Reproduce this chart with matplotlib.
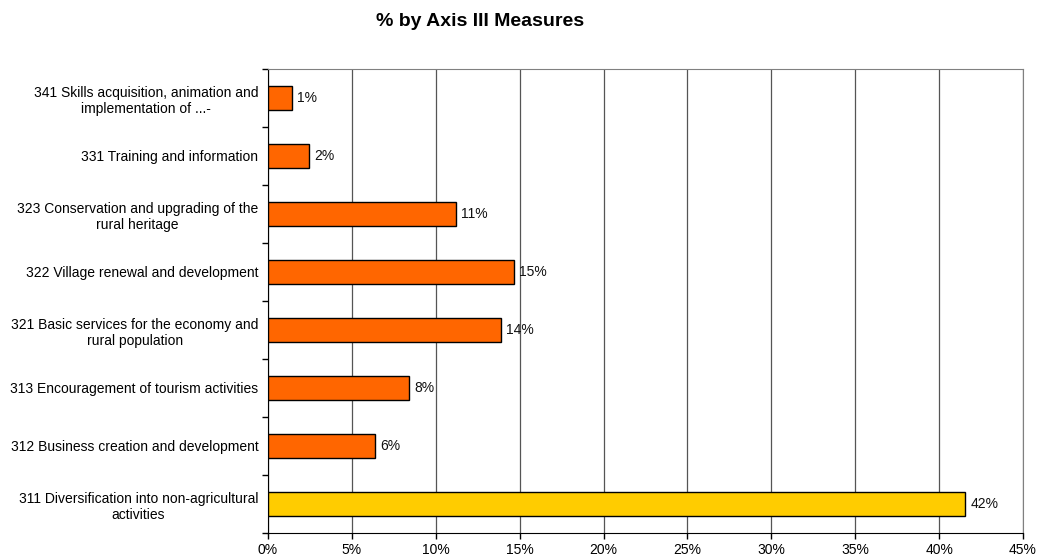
import numpy as np
import matplotlib.pyplot as plt

plt.rcParams['font.family'] = ['Liberation Sans', 'DejaVu Sans']

# measures from bottom to top
medidas = [
    "311 Diversification into non-agricultural\nactivities",
    "312 Business creation and development",
    "313 Encouragement of tourism activities",
    "321 Basic services for the economy and\nrural population",
    "322 Village renewal and development",
    "323 Conservation and upgrading of the\nrural heritage",
    "331 Training and information",
    "341 Skills acquisition, animation and\nimplementation of ...-",
]
porcentajes = [41.56, 6.4, 8.4, 13.9, 14.66, 11.22, 2.44, 1.41]
colores = ['#FFCC00'] + ['#FF6600'] * 7
ticks_x = [0, 5, 10, 15, 20, 25, 30, 35, 40, 45]

fig = plt.figure(figsize=(10.4, 5.58), dpi=100)
ax = fig.add_axes([268 / 1040, 1 - 533 / 558, 755 / 1040, 464 / 558])

y = np.arange(len(medidas))
ax.barh(y, porcentajes, height=0.4, color=colores, edgecolor='black', linewidth=1, zorder=3)

for yi, v in zip(y, porcentajes):
    ax.text(v + 0.3, yi, f"{round(v):.0f}%", va='center', ha='left', fontsize=10, color='#111111')

ax.set_xlim(0, 45)
ax.set_ylim(-0.5, len(medidas) - 0.5)
ax.set_xticks(ticks_x)
ax.set_xticklabels([f"{t}%" for t in ticks_x], fontsize=10)
ax.tick_params(axis='x', length=4, width=1, pad=3)

# category labels centred on bars, ticks on category boundaries
ax.set_yticks(y)
ax.set_yticklabels(medidas, fontsize=10, ha='right')
ax.tick_params(axis='y', which='major', length=0, pad=7)
ax.set_yticks(np.arange(-0.5, len(medidas), 1), minor=True)
ax.tick_params(axis='y', which='minor', length=4, width=1)
for lbl in ax.get_yticklabels():
    lbl.set_multialignment('center')

ax.grid(axis='x', color='#555555', linewidth=0.9, zorder=0)
ax.spines['left'].set_color('black')
ax.spines['bottom'].set_color('black')
ax.spines['top'].set_color('#808080')
ax.spines['right'].set_color('#808080')

fig.text(480 / 1040, 1 - 21 / 558, "% by Axis III Measures", ha='center', va='center',
         fontsize=14, fontweight='bold')

fig.savefig('out.png', dpi=100)
